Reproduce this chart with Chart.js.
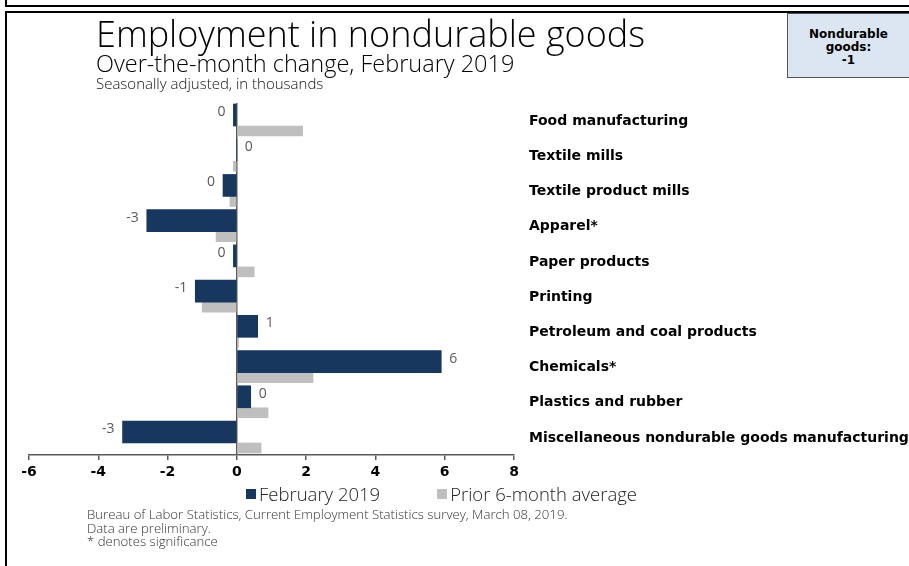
<!DOCTYPE html>
<html>
<head>
<meta charset="utf-8">
<script src="https://cdn.jsdelivr.net/npm/chart.js@4.4.1/dist/chart.umd.min.js"></script>
<style>
  html, body { margin: 0; padding: 0; background: #fff; }
  #wrap { position: relative; width: 909px; height: 566px; overflow: hidden; font-family: "Open Sans", sans-serif; }
  #chart { position: absolute; left: 0; top: 0; }
  .frame { position: absolute; box-sizing: border-box; border: 2px solid #000; }
  #title { position: absolute; left: 96px; top: 14px; font-size: 36px; font-weight: 300; line-height: 40px; color: #000; white-space: nowrap; }
  #subtitle { position: absolute; left: 96px; top: 51px; font-size: 23.5px; font-weight: 300; line-height: 24px; color: #000; white-space: nowrap; }
  #units { position: absolute; left: 96px; top: 75px; font-size: 15px; font-weight: 300; line-height: 16px; color: #111; white-space: nowrap; }
  #total { position: absolute; left: 787px; top: 13px; width: 122px; height: 65px; box-sizing: border-box; background: #dce6f2; border: 1px solid #555; border-right: none;
           font-family: "DejaVu Sans", Verdana, sans-serif; font-weight: bold; font-size: 12px; line-height: 13px; text-align: center; padding-top: 14px; color: #000; }
  #legend { position: absolute; left: 246px; top: 481px; display: flex; align-items: center; font-size: 18.5px; font-weight: 300; color: #222; white-space: nowrap; }
  #legend .item { display: flex; align-items: center; margin-right: 57px; }
  #legend .box { width: 10px; height: 10px; margin-right: 3px; }
  #source { position: absolute; left: 87px; top: 508px; font-size: 13.2px; line-height: 13.5px; font-weight: 300; color: #333; white-space: nowrap; }
</style>
</head>
<body>
<div id="wrap">
  <div class="frame" style="left:5px; top:-12px; width:1000px; height:19px;"></div>
  <div class="frame" style="left:5px; top:11px; width:1000px; height:1000px;"></div>
  <canvas id="chart" width="909" height="566"></canvas>
  <div id="title">Employment in nondurable goods</div>
  <div id="subtitle">Over-the-month change, February 2019</div>
  <div id="units">Seasonally adjusted, in thousands</div>
  <div id="total"></div>
  <div id="legend"></div>
  <div id="source">Bureau of Labor Statistics, Current Employment Statistics survey, March 08, 2019.<br>Data are preliminary.<br>* denotes significance</div>
</div>
<script>
  // industries, top to bottom
  var categories = [
    'Food manufacturing',
    'Textile mills',
    'Textile product mills',
    'Apparel*',
    'Paper products',
    'Printing',
    'Petroleum and coal products',
    'Chemicals*',
    'Plastics and rubber',
    'Miscellaneous nondurable goods manufacturing'
  ];
  // over-the-month change, thousands
  var feb2019 = [-0.1, 0.0, -0.4, -2.6, -0.1, -1.2, 0.6, 5.9, 0.4, -3.3];
  var prior6 = [1.9, -0.1, -0.2, -0.6, 0.5, -1.0, 0.05, 2.2, 0.9, 0.7];
  var seriesNames = ['February 2019', 'Prior 6-month average'];
  var xTicks = { min: -6, max: 8, step: 2 };

  var navy = '#17375e';
  var grey = '#bfbfbf';
  var axisGrey = '#595959';

  function points(values) {
    return values.map(function(v, i) { return { x: v, y: i }; });
  }

  // rounded value next to the end of each February bar
  var valueLabels = {
    id: 'valueLabels',
    afterDatasetsDraw: function(chart) {
      var ctx = chart.ctx;
      var meta = chart.getDatasetMeta(0);
      ctx.save();
      ctx.font = '400 14px "Open Sans"';
      ctx.fillStyle = axisGrey;
      ctx.textBaseline = 'middle';
      meta.data.forEach(function(bar, i) {
        var v = feb2019[i];
        var neg = v < 0;
        ctx.textAlign = neg ? 'right' : 'left';
        ctx.fillText(String(Math.round(v)), bar.x + (neg ? -8 : 8), bar.y - 3);
      });
      ctx.restore();
    }
  };

  var chart = new Chart(document.getElementById('chart'), {
    type: 'bar',
    data: {
      datasets: [
        { label: seriesNames[0], data: points(feb2019), backgroundColor: navy, barThickness: 22 },
        { label: seriesNames[1], data: points(prior6), backgroundColor: grey, barThickness: 10 }
      ]
    },
    options: {
      indexAxis: 'y',
      responsive: false,
      animation: false,
      layout: { padding: { left: 29, top: 103, right: 0, bottom: 81 } },
      plugins: {
        legend: { display: false },
        tooltip: { enabled: false }
      },
      scales: {
        x: {
          type: 'linear',
          min: xTicks.min,
          max: xTicks.max,
          afterFit: function(scale) { scale.height = 30; },
          border: { display: true, color: axisGrey, width: 1.5 },
          grid: {
            drawOnChartArea: true,
            drawTicks: true,
            tickLength: 5,
            tickColor: axisGrey,
            tickWidth: 1.5,
            color: function(c) { return c.tick && c.tick.value === 0 ? axisGrey : 'rgba(0,0,0,0)'; },
            lineWidth: 1.5
          },
          ticks: {
            stepSize: xTicks.step,
            color: '#000',
            padding: 4,
            font: { family: '"DejaVu Sans", Verdana, sans-serif', weight: 'bold', size: 14 }
          }
        },
        y: {
          type: 'linear',
          position: 'right',
          reverse: true,
          offset: false,
          min: -0.653,
          max: 9.341,
          afterFit: function(scale) { scale.width = 395; },
          border: { display: false },
          grid: { display: false, drawTicks: false, offset: false },
          ticks: {
            stepSize: 1,
            includeBounds: false,
            padding: 15,
            labelOffset: -5,
            autoSkip: false,
            color: '#000',
            font: { family: '"DejaVu Sans", Verdana, sans-serif', weight: 'bold', size: 14 },
            callback: function(value) { return categories[value]; }
          }
        }
      }
    },
    plugins: [valueLabels]
  });

  // headline total for the group
  var total = feb2019.reduce(function(a, b) { return a + b; }, 0);
  document.getElementById('total').innerHTML = 'Nondurable<br>goods:<br>' + Math.round(total);

  // legend built from the chart's own legend items
  var legendEl = document.getElementById('legend');
  Chart.defaults.plugins.legend.labels.generateLabels(chart).forEach(function(item) {
    var div = document.createElement('div');
    div.className = 'item';
    var box = document.createElement('span');
    box.className = 'box';
    box.style.background = item.fillStyle;
    var txt = document.createElement('span');
    txt.textContent = item.text;
    div.appendChild(box);
    div.appendChild(txt);
    legendEl.appendChild(div);
  });
</script>
</body>
</html>
